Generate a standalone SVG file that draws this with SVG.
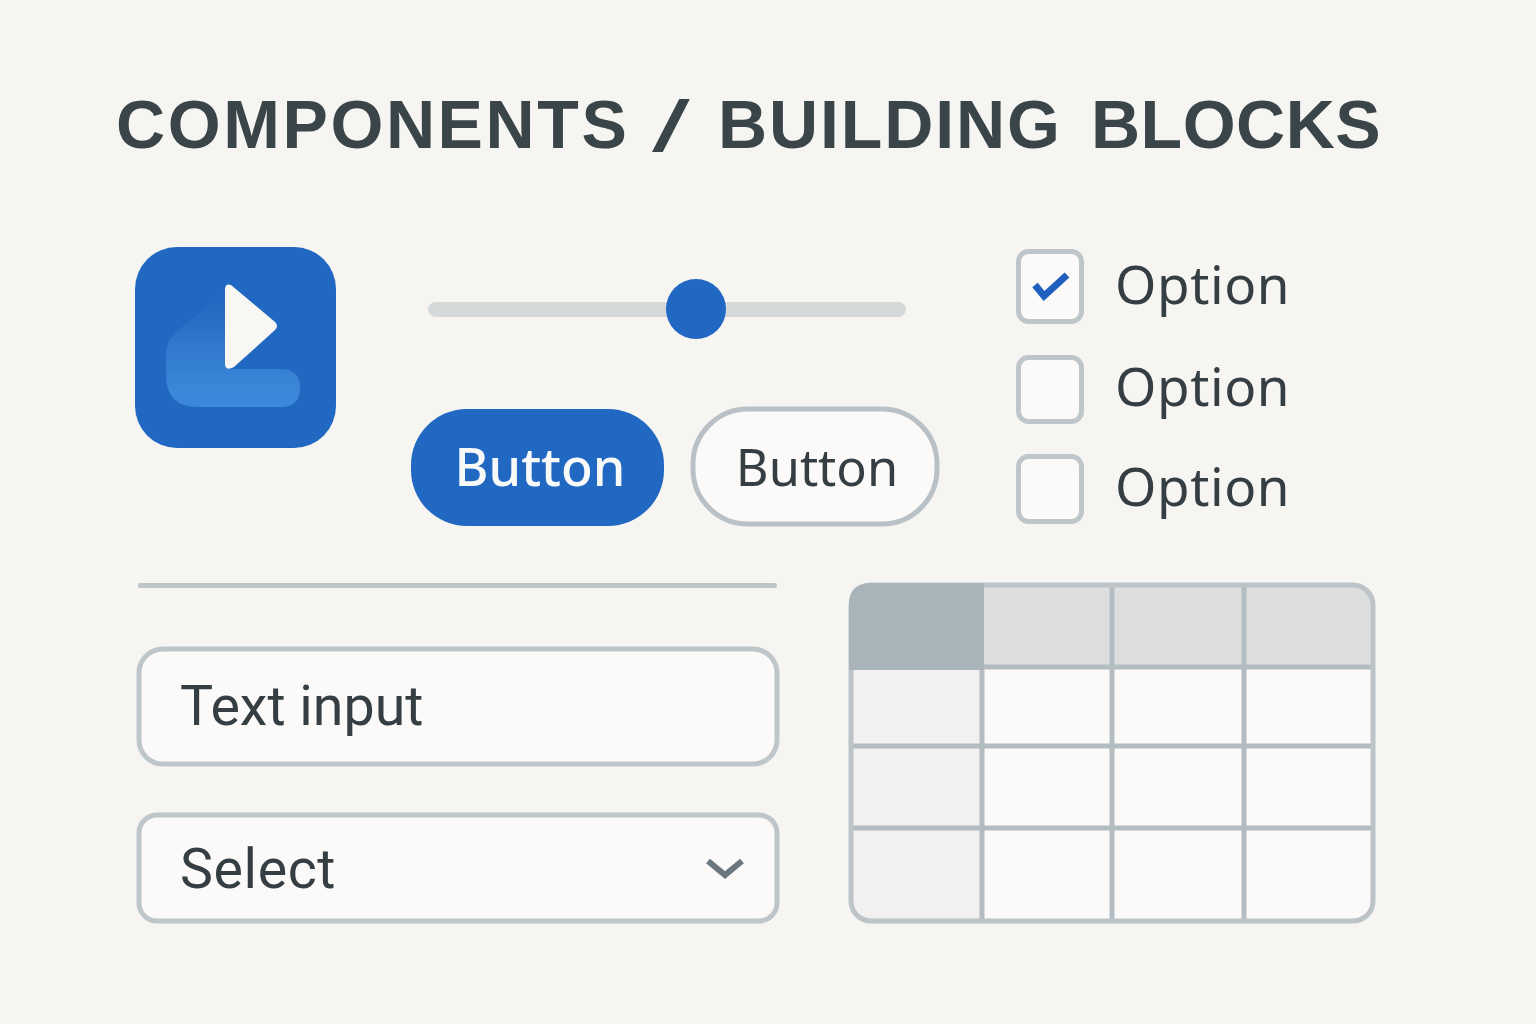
<svg xmlns="http://www.w3.org/2000/svg" width="1536" height="1024" viewBox="0 0 1536 1024">
<defs>
<linearGradient id="lg" x1="0" y1="0" x2="0" y2="1"><stop offset="0" stop-color="#2a6fc4" stop-opacity="0.1"/><stop offset="0.45" stop-color="#2f78cd"/><stop offset="0.85" stop-color="#3c87da"/><stop offset="1" stop-color="#3d88dc"/></linearGradient>
</defs>
<style>
text{font-family:"Noto Sans","Open Sans",sans-serif;fill:#343e43}
.title{font-family:"Liberation Sans",Arial,sans-serif;font-size:68px;font-weight:700;fill:#3a454a}
.opt{font-size:53px;letter-spacing:0.6px}
.field{font-family:Roboto,"Noto Sans",sans-serif;font-size:55.500px}
.box{fill:#fbfaf8;stroke:#bfc6ca;stroke-width:5}
.grid{stroke:#b3bcc1;stroke-width:5;fill:none}
</style>
<rect width="1536" height="1024" fill="#f6f5f2"/>
<g id="title">
<text class="title" x="116" y="148" letter-spacing="2.6">COMPONENTS</text>
<text class="title" style="font-weight:400" transform="translate(652 151) scale(2 1.05)">/</text>
<text class="title" x="718" y="148" letter-spacing="1.9">BUILDING</text>
<text class="title" x="1091" y="148" letter-spacing="0.5">BLOCKS</text>
</g>
<g id="icon">
<rect x="135" y="247" width="201" height="201" rx="42" fill="#2068c2"/>
<path d="M226 292 L176 332 Q166 341 166 356 V375 Q166 407 198 407 H281 Q300 407 300 388 Q300 369 281 369 H226 Z" fill="url(#lg)"/>
<path d="M225 290 Q225 283 231 285 L275 322 Q279 326 275 330 L234 367 Q225 372 225 363 Z" fill="#f8f7f4"/>
</g>
<g id="slider">
<rect x="428" y="302" width="478" height="15" rx="7.500" fill="#d6d9da"/>
<circle cx="696" cy="309" r="30" fill="#2068c2"/>
</g>
<g id="button-primary">
<rect x="411" y="409" width="253" height="117" rx="56" fill="#2068c2"/>
<text x="540" y="486" text-anchor="middle" font-size="52" font-weight="500" style="fill:#f8f9f9">Button</text>
</g>
<g id="button-secondary">
<rect x="693" y="409" width="244" height="115" rx="55" fill="#fbfaf8" stroke="#b9c1c6" stroke-width="5"/>
<text x="817" y="486" text-anchor="middle" font-size="50.500">Button</text>
</g>
<g id="check1">
<rect class="box" x="1018.500" y="251.500" width="63" height="70" rx="10"/>
<path d="M1035 285 L1044 296 L1067 275" fill="none" stroke="#1f5fbe" stroke-width="7"/>
<text class="opt" x="1115" y="304">Option</text>
</g>
<g id="check2">
<rect class="box" x="1018.500" y="357.500" width="63" height="64" rx="10"/>
<text class="opt" x="1115" y="406">Option</text>
</g>
<g id="check3">
<rect class="box" x="1018.500" y="456.500" width="63" height="65" rx="10"/>
<text class="opt" x="1115" y="506">Option</text>
</g>
<g id="divider"><rect x="138" y="583" width="639" height="5" rx="2" fill="#bfc6ca"/></g>
<g id="text-input">
<rect class="box" x="139" y="649" width="638" height="115" rx="24"/>
<text class="field" x="180" y="725">Text input</text>
</g>
<g id="select">
<rect class="box" x="139" y="815" width="638" height="106" rx="18"/>
<text class="field" x="180" y="888" letter-spacing="0.6">Select</text>
<path d="M708 861 L725 875 L742 861" fill="none" stroke="#6a777f" stroke-width="6"/>
</g>
<g id="table">
<rect x="851" y="585" width="522" height="336" rx="20" fill="#fbfaf8"/>
<path d="M984 585 H1353 Q1373 585 1373 605 V668 H984 Z" fill="#dcdedd"/>
<path d="M851 668 H982 V919 H871 Q851 919 851 901 Z" fill="#f2f1ef"/>
<path class="grid" d="M982 668 V921 M1112 585 V921 M1244 585 V921 M851 667 H1373 M851 746 H1373 M851 828 H1373"/>
<rect x="851" y="585" width="522" height="336" rx="20" fill="none" stroke="#bcc4c8" stroke-width="5"/>
<path d="M849 670 V605 Q849 583 871 583 H984 V670 Z" fill="#a8b3ba"/>
</g>
</svg>
